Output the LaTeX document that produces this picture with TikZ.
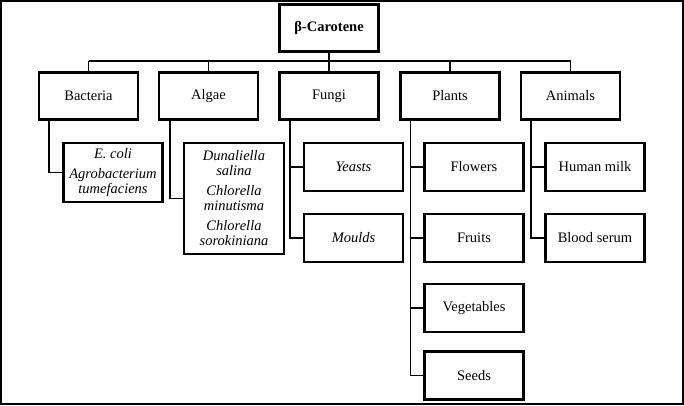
\documentclass[tikz,border=0pt]{standalone}
\usepackage{fontspec}
\setmainfont{Liberation Serif}
\begin{document}
\begin{tikzpicture}[x=1pt,y=-1pt,
  box/.style={draw,line width=2.5pt,minimum width=99pt,inner sep=1pt,align=center,
    font=\fontsize{14.5}{15}\selectfont},
  lvl/.style={box,minimum height=47pt},
  kid/.style={box,minimum height=48pt},
  conn/.style={line width=1.5pt}]
\useasboundingbox (0,0) rectangle (684,405);
\draw[line width=2pt] (1,1) rectangle (683,404);
% root
\node[lvl,font=\fontsize{14.5}{15}\selectfont\bfseries] (root) at (329,28) {β-Carotene};
% level 1
\node[lvl] (bac) at (88.5,96) {Bacteria};
\node[lvl] (alg) at (208.5,96) {Algae};
\node[lvl] (fun) at (329,96) {Fungi};
\node[lvl] (pla) at (450,96) {Plants};
\node[lvl] (ani) at (570.5,96) {Animals};
% bus
\coordinate (bus) at (329,61);
\draw[conn] (root.south) -- (bus);
\draw[conn] (bac.north |- bus) -- (ani.north |- bus);
\foreach \n in {bac,alg,fun,pla,ani}{\draw[conn] (\n.north |- bus) -- (\n.north);}
% children
\node[box,minimum height=59pt,font=\fontsize{14.5}{15}\selectfont\itshape] (ecoli) at (113,172.5)
  {E. coli\\[5pt]Agrobacterium\\tumefaciens};
\node[box,minimum width=100pt,minimum height=111pt,font=\fontsize{14.5}{15}\selectfont\itshape] (dun) at (234,198.5)
  {Dunaliella\\salina\\[5pt]Chlorella\\minutisma\\[5pt]Chlorella\\sorokiniana};
\node[kid,font=\fontsize{14.5}{15}\selectfont\itshape] (yea) at (353.5,167) {Yeasts};
\node[kid,font=\fontsize{14.5}{15}\selectfont\itshape] (mou) at (353.5,238) {Moulds};
\node[kid] (flo) at (474,167) {Flowers};
\node[kid] (fru) at (474,238) {Fruits};
\node[kid] (veg) at (474,308) {Vegetables};
\node[kid] (see) at (474,375.5) {Seeds};
\node[kid] (hum) at (595,167) {Human milk};
\node[kid] (blo) at (595,238) {Blood serum};
% trunks
\coordinate (tB) at (49,120);
\coordinate (tA) at (170,120);
\coordinate (tF) at (290,120);
\coordinate (tP) at (410.5,120);
\coordinate (tN) at (531,120);
\draw[conn] (tB) |- (ecoli.west);
\draw[conn] (tA) |- (dun.west);
\draw[conn] (tF) |- (mou.west);
\draw[conn] (tF |- yea.west) -- (yea.west);
\draw[conn] (tP) |- (see.west);
\foreach \n in {flo,fru,veg}{\draw[conn] (tP |- \n.west) -- (\n.west);}
\draw[conn] (tN) |- (blo.west);
\draw[conn] (tN |- hum.west) -- (hum.west);
\end{tikzpicture}
\end{document}
